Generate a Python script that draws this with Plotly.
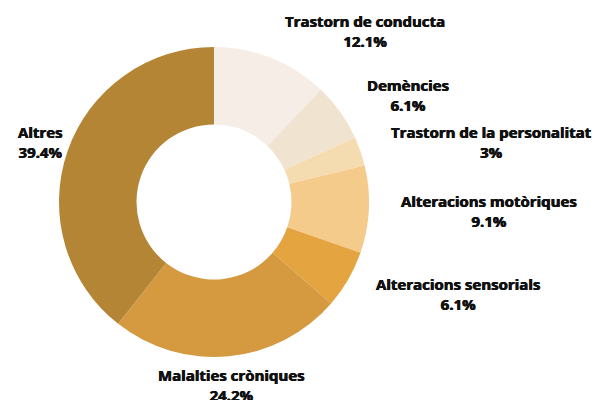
import math
import plotly.graph_objects as go

categories = ["Trastorn de conducta", "Demències", "Trastorn de la personalitat",
              "Alteracions motòriques", "Alteracions sensorials",
              "Malalties cròniques", "Altres"]
values = [4, 2, 1, 3, 2, 8, 13]
pct_labels = ["12.1%", "6.1%", "3%", "9.1%", "6.1%", "24.2%", "39.4%"]
colors = ["#f6ede6", "#f0e3d0", "#f5dcb0", "#f5cb8b", "#e4a43f", "#d59a3f", "#b58536"]

W, H = 607, 400
OFF = 8  # page body margin
cx, cy, R = 214 - OFF, 202 - OFF, 155
LABEL_R = 184

fig = go.Figure(go.Pie(
    labels=categories, values=values, sort=False, direction="clockwise",
    rotation=0, hole=0.5, marker=dict(colors=colors, line=dict(width=0)),
    textinfo="none", hoverinfo="label+percent", showlegend=False,
    domain=dict(x=[(cx - R) / W, (cx + R) / W], y=[(H - cy - R) / H, (H - cy + R) / H]),
))

total = sum(values)
cum = 0
annotations = []
for name, v, p in zip(categories, values, pct_labels):
    mid = (cum + v / 2) / total * 2 * math.pi
    cum += v
    dx, dy = math.sin(mid), math.cos(mid)
    px = cx + LABEL_R * dx
    py = cy - LABEL_R * dy
    if dx > 0.3:
        anchor = "left"
        px += 1
    else:
        anchor = "center"
    annotations.append(dict(
        x=px / W, y=(H - py) / H, xref="paper", yref="paper",
        text=f"<b>{name}</b><br><b>{p}</b>", showarrow=False,
        xanchor=anchor, yanchor="middle",
        font=dict(family="Open Sans", size=15, color="#111111", weight=800,
                  shadow="0.35px 0 0 #111111, -0.35px 0 0 #111111"),
        align="center",
    ))

fig.update_layout(
    width=W, height=H, margin=dict(l=0, r=0, t=0, b=0),
    paper_bgcolor="white", plot_bgcolor="white",
    annotations=annotations,
)
fig.write_html("out.html")
